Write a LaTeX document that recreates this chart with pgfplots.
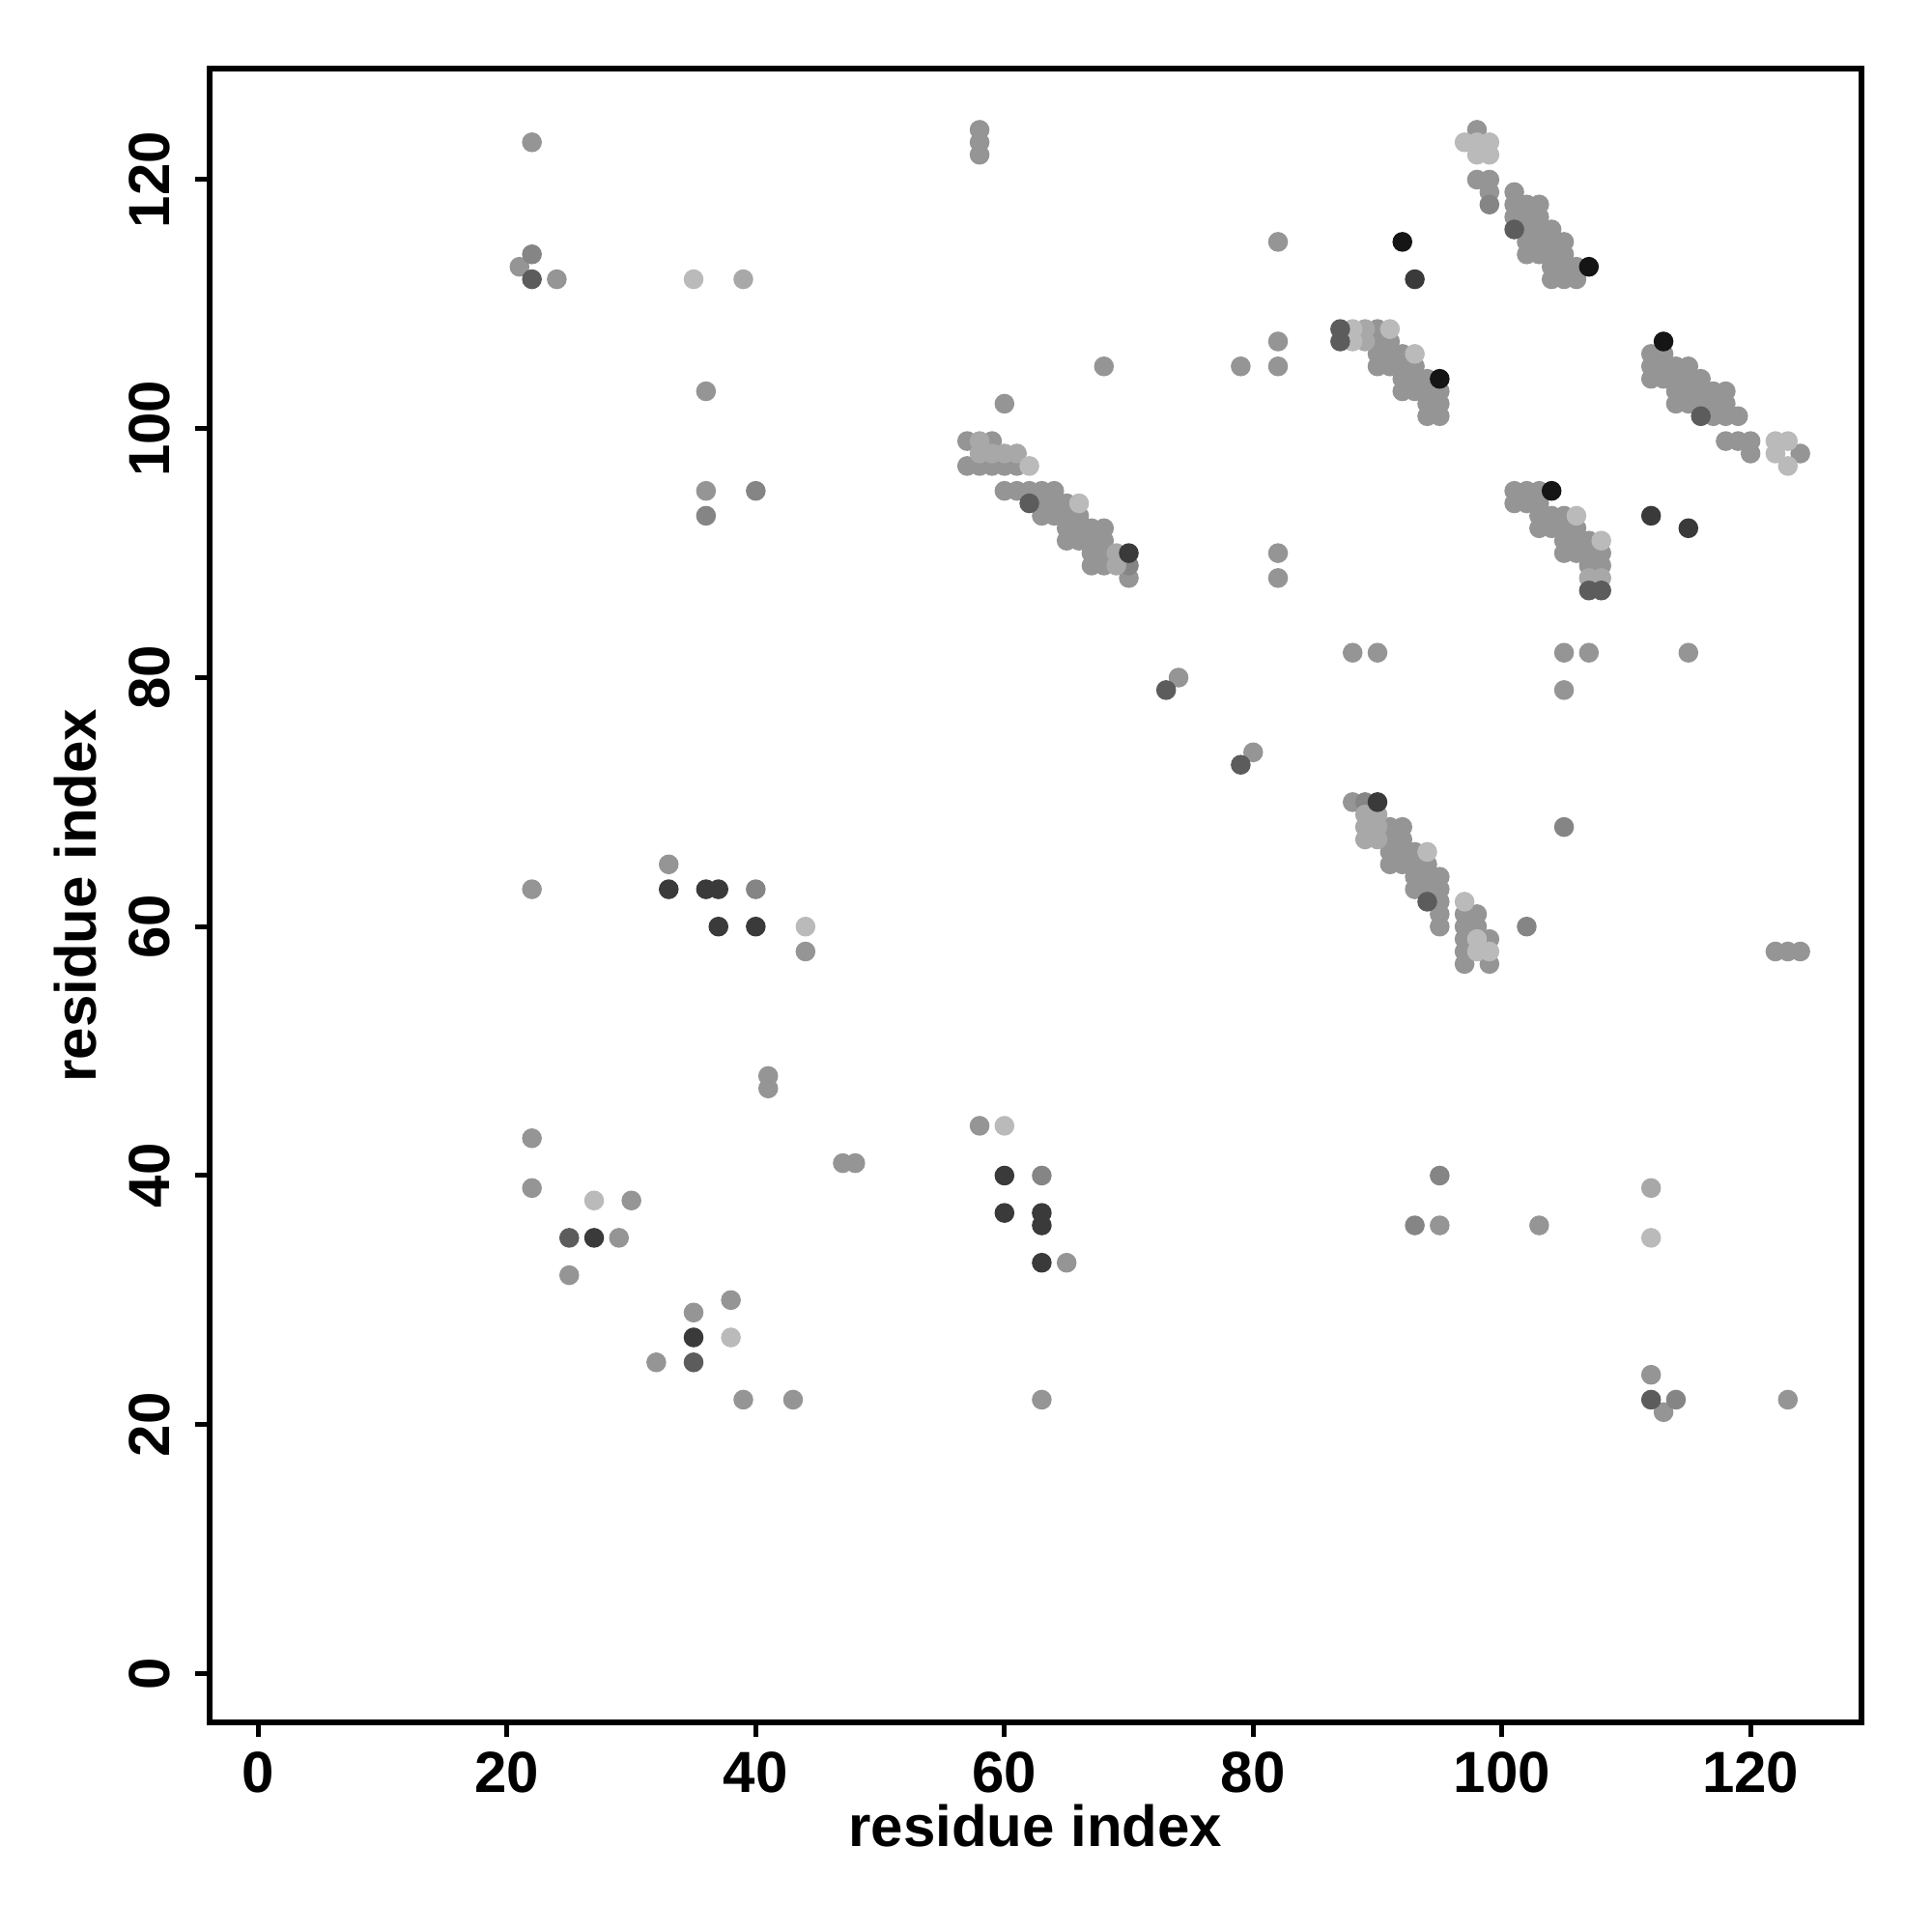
\documentclass[border=0pt]{standalone}
\usepackage{fontspec}
\setmainfont{Liberation Sans}
\usepackage{pgfplots}
\pgfplotsset{compat=1.18}
\definecolor{cM}{HTML}{959595}
\definecolor{cMD}{HTML}{858585}
\definecolor{cL2}{HTML}{A8A8A8}
\definecolor{cL1}{HTML}{BABABA}
\definecolor{cD1}{HTML}{5C5C5C}
\definecolor{cD2}{HTML}{3A3A3A}
\definecolor{cB}{HTML}{151515}
\begin{document}
\begin{tikzpicture}
\useasboundingbox (-43.4pt,-43.4pt) rectangle (356.6pt,356.6pt);
\begin{axis}[
  at={(0pt,0pt)}, anchor=south west,
  scale only axis, width=342pt, height=342.4pt,
  xmin=-3.92, xmax=128.92, ymin=-3.92, ymax=128.92,
  xtick={0,20,...,120}, ytick={0,20,...,120},
  tick pos=left, tick align=outside, major tick length=3pt,
  axis line style={line width=1.3pt}, every tick/.style={line width=1pt, black},
  /pgf/number format/assume math mode=true,
  ticklabel style={font=\bfseries\fontsize{12}{14}\selectfont, inner sep=0pt},
  xticklabel style={anchor=north},
  yticklabel style={rotate=90, anchor=south},
  xticklabel shift=3pt, yticklabel shift=5pt,
  xlabel={residue index}, ylabel={residue index},
  label style={font=\bfseries\fontsize{12}{14}\selectfont, inner sep=0pt},
  xlabel style={at={([yshift=-25.6pt]axis description cs:0.5,0)}, anchor=base},
  ylabel style={at={([xshift=-23.5pt]axis description cs:0,0.5)}, rotate=0, anchor=base},
  every axis plot/.append style={only marks, mark=*, mark size=1.85pt},
]
% medium
\addplot[color=cM] coordinates {
(57,99)(59,99)(57,97)(58,97)(59,97)(60,97)(61,97)(60,95)(61,95)(62,95)(63,95)(64,95)(63,94)(64,94)(65,94)(63,93)(64,93)(65,93)(66,93)(65,92)(66,92)(67,92)(68,92)(65,91)(66,91)(67,91)(68,91)(67,90)(68,90)(67,89)(68,89)(70,88)
(90,108)(91,107)(90,107)(90,106)(91,106)(92,106)(90,105)(91,105)(92,105)(93,105)(92,104)(93,104)(94,104)(92,103)(93,103)(94,103)(95,103)(94,102)(95,102)(94,101)(95,101)
(98,124)(98,120)(99,120)(99,119)(101,119)(101,118)(102,118)(103,118)(101,117)(102,117)(103,117)(102,116)(103,116)(104,116)(102,115)(103,115)(104,115)(105,115)(102,114)(103,114)(104,114)(105,114)(104,113)(105,113)(106,113)(104,112)(105,112)(106,112)
(112,106)(113,106)(112,105)(113,105)(114,105)(115,105)(112,104)(113,104)(114,104)(115,104)(116,104)(114,103)(115,103)(116,103)(117,103)(118,103)(114,102)(115,102)(116,102)(117,102)(118,102)(117,101)(118,101)(119,101)(118,99)(119,99)(120,99)(120,98)(124,98)
(101,95)(102,95)(103,95)(101,94)(102,94)(103,94)(103,93)(104,93)(105,93)(103,92)(104,92)(105,92)(106,92)(105,91)(106,91)(107,91)(105,90)(106,90)(107,90)(108,90)(107,89)(108,89)
(88,70)(91,68)(92,68)(91,67)(92,67)(91,66)(92,66)(93,66)(91,65)(92,65)(93,65)(94,65)(93,64)(94,64)(95,64)(93,63)(94,63)(95,63)(95,62)(95,61)(95,60)(97,61)(98,61)(97,60)(98,60)(97,59)(99,59)(97,58)(97,57)(99,57)
(22,123)(21,113)(24,112)(36,103)(36,95)(58,124)(58,123)(58,122)(60,102)(68,105)(79,105)(82,115)(82,107)(82,105)(82,90)(82,88)(74,80)(80,74)(88,82)(90,82)(105,82)(107,82)(115,82)(105,79)(22,63)(33,65)(44,58)(41,48)(41,47)(47,41)(48,41)(58,44)(22,43)(22,39)(30,38)(29,35)(25,32)(38,30)(35,29)(32,25)(39,22)(43,22)(63,22)(65,33)(95,36)(103,36)(122,58)(123,58)(124,58)(112,24)(123,22)(113,21)
};
% medium dark
\addplot[color=cMD] coordinates {
(70,89)(99,118)(89,70)(22,114)(36,93)(40,95)(40,63)(63,40)(95,40)(93,36)(114,22)(105,68)(102,60)
};
% light 2
\addplot[color=cL2] coordinates {
(58,99)(58,98)(59,98)(60,98)(61,98)(69,90)(69,89)(89,108)(89,107)(107,88)(108,88)(89,69)(90,69)(89,68)(90,68)(89,67)(90,67)(39,112)(112,39)
};
% light 1
\addplot[color=cL1] coordinates {
(62,97)(66,94)(88,108)(88,107)(91,108)(93,106)(97,123)(98,123)(99,123)(98,122)(99,122)(122,99)(123,99)(122,98)(123,97)(106,93)(108,91)(94,66)(97,62)(98,59)(98,58)(99,58)(35,112)(27,38)(38,27)(60,44)(112,35)(44,60)
};
% dark 1
\addplot[color=cD1] coordinates {
(62,94)(87,108)(87,107)(101,116)(116,101)(107,87)(108,87)(94,62)(22,112)(25,35)(35,25)(73,79)(79,73)(112,22)
};
% dark 2
\addplot[color=cD2] coordinates {
(70,90)(90,70)(27,35)(35,27)(33,63)(36,63)(37,63)(37,60)(40,60)(60,40)(60,37)(63,37)(63,36)(63,33)(93,112)(112,93)(115,92)
};
% black
\addplot[color=cB] coordinates {
(95,104)(107,113)(113,107)(104,95)(92,115)
};
\end{axis}
\end{tikzpicture}
\end{document}
